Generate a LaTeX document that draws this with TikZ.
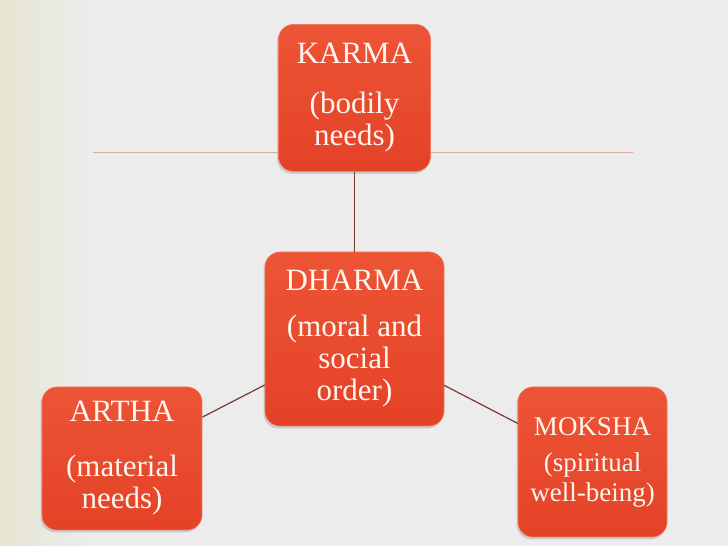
\documentclass[tikz,border=0pt]{standalone}
\usepackage{fontspec}
\setmainfont{Liberation Serif}
\usetikzlibrary{positioning,shadows}
\usepackage{xcolor}

\definecolor{pillartop}{RGB}{237,84,54}
\definecolor{pillarbottom}{RGB}{228,66,38}
\definecolor{pillaredge}{RGB}{240,120,98}
\definecolor{linkred}{RGB}{122,58,48}
\definecolor{guidepink}{RGB}{220,170,160}
\definecolor{slidegray}{RGB}{236,236,236}
\definecolor{slidebeige}{RGB}{230,229,210}

\begin{document}
\begin{tikzpicture}[
    x=1pt, y=1pt,
    pillar/.style={
        rectangle,
        rounded corners=15pt,
        top color=pillartop,
        bottom color=pillarbottom,
        draw=pillaredge,
        line width=0.6pt,
        drop shadow={shadow xshift=-1.5pt, shadow yshift=-2.5pt, opacity=0.3},
        text={rgb,255:red,255;green,246;blue,240},
        align=center,
        inner sep=0pt,
        font=\fontsize{31}{32}\selectfont
    },
    link/.style={draw=linkred, line width=1.2pt},
    guide/.style={draw=guidepink, line width=1pt}
]
    % Slide background
    \useasboundingbox (0,0) rectangle (728,546);
    \fill[slidegray] (0,0) rectangle (728,546);
    \shade[left color=slidebeige, right color=slidegray] (0,0) rectangle (90,546);

    % Guide line behind the top box
    \coordinate (guideL) at (93,393);
    \coordinate (guideR) at (633,393);
    \draw[guide] (guideL) -- (guideR);

    % Boxes
    \node[pillar, minimum width=179pt, minimum height=174pt] (dharma) at (354.5,207)
        {DHARMA\\[14pt](moral and\\social\\order)};
    \node[pillar, minimum width=152pt, minimum height=147pt, above=80pt of dharma] (karma)
        {KARMA\\[18pt](bodily\\needs)};
    \node[pillar, minimum width=160pt, minimum height=143pt] (artha) at (122,87.5)
        {ARTHA\\[23pt](material\\needs)};
    \node[pillar, minimum width=149pt, minimum height=150pt, font=\fontsize{27}{30}\selectfont] (moksha) at (592.5,84)
        {MOKSHA\\[6pt](spiritual\\well-being)};

    % Links
    \draw[link] (karma) -- (dharma);
    \draw[link] (artha) -- (dharma);
    \draw[link] (dharma) -- (moksha);
\end{tikzpicture}
\end{document}
